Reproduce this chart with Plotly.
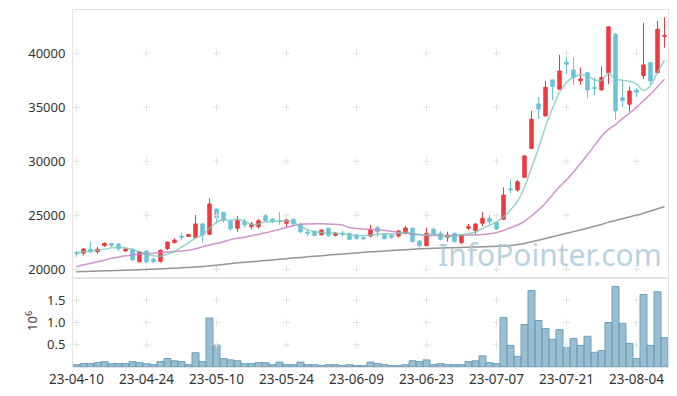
import pandas as pd
import plotly.graph_objects as go

# ---- categories (Korean trading days) ----
holidays = ["2023-05-01", "2023-05-05", "2023-05-29", "2023-06-06"]
days = pd.bdate_range("2023-04-10", "2023-08-10")
days = days[~days.isin(pd.to_datetime(holidays))]
dates = [d.strftime("%y-%m-%d") for d in days]

# ---- OHLC ----
opens = [21550, 21500, 21850, 21640, 22190, 22400, 22340, 21700, 21850, 20700,
         21700, 20950, 20740, 21910, 22470, 23080, 23050, 22930, 24200, 23240,
         25580, 25280, 24450, 23800, 24400, 23950, 23950, 24960, 24660, 24500,
         24260, 24630, 24200, 23450, 23540, 23200, 23800, 23150, 23360, 23330,
         23170, 22930, 23085, 23890, 23240, 23170, 23085, 23335, 23825, 22620,
         22190, 23700, 23335, 22960, 23335, 22470, 23800, 23575, 24260, 24720,
         24320, 24630, 27450, 27345, 28520, 31200, 35310, 34200, 37530, 36670,
         39170, 38450, 37460, 38200, 36850, 36600, 38200, 41760, 35870, 35280,
         36600, 37940, 39140, 38200, 41560]
highs = [21700, 21950, 22550, 22080, 22500, 22470, 22400, 21940, 22000, 21650,
         21750, 21080, 21850, 22590, 22870, 23390, 23260, 25030, 24320, 26580,
         25650, 25340, 24650, 24930, 24700, 24380, 24660, 25090, 24720, 25330,
         24720, 24720, 24260, 23700, 23570, 23700, 23850, 23450, 23570, 23390,
         23270, 23020, 24100, 23980, 23300, 23240, 23640, 24010, 23850, 22720,
         23850, 23850, 23550, 23480, 23400, 23240, 24200, 24260, 25280, 25030,
         24410, 27590, 28330, 28270, 30580, 34660, 35930, 37440, 37600, 39840,
         39630, 39630, 38670, 38290, 37740, 38760, 42500, 41880, 37530, 36910,
         36790, 42810, 39140, 42990, 43330]
lows = [21150, 21300, 21550, 21450, 22080, 22030, 21700, 21600, 20800, 20650,
        20600, 20600, 20620, 21790, 22400, 22720, 22980, 22870, 22470, 23180,
        24260, 24320, 23580, 23480, 23900, 23700, 23760, 24350, 24270, 24100,
        23900, 24000, 23330, 23080, 23090, 23110, 23020, 23050, 23020, 22720,
        22720, 22690, 22960, 23020, 22780, 22840, 22930, 23240, 22500, 22000,
        22160, 23150, 22680, 22560, 22470, 22310, 23640, 23240, 24010, 24160,
        23640, 24570, 27040, 27190, 28430, 31110, 33920, 34130, 35680, 36600,
        38080, 37070, 37070, 35830, 36140, 36560, 37130, 33830, 35000, 34590,
        35930, 37620, 37070, 38110, 40520]
closes = [21450, 21880, 21600, 21870, 22400, 22220, 21910, 21880, 20870, 21600,
          20700, 20700, 21760, 22530, 22710, 22980, 23230, 24200, 23180, 26050,
          24780, 24570, 23750, 24500, 24120, 24200, 24500, 24500, 24400, 24440,
          24570, 24200, 23480, 23350, 23120, 23640, 23120, 23360, 23270, 22780,
          22870, 22850, 23640, 23480, 22840, 22960, 23550, 23825, 22560, 22190,
          23335, 23240, 22780, 23175, 22560, 23175, 23950, 24195, 24720, 24410,
          23730, 26880, 27370, 28110, 30490, 33890, 34840, 36850, 36910, 38360,
          38980, 37780, 37620, 36600, 36740, 37740, 42440, 34660, 35620, 36510,
          36390, 38920, 37440, 42230, 41650]

# ---- moving averages ----
ma_short = [21540, 21620, 21700, 21780, 21850, 21990, 22020, 22000, 21820, 21650,
            21420, 21250, 21220, 21420, 21650, 22050, 22450, 22900, 23200, 23800,
            24350, 24580, 24520, 24650, 24450, 24150, 24200, 24400, 24440, 24450,
            24500, 24350, 24000, 23650, 23480, 23420, 23380, 23330, 23290, 23200,
            23150, 23120, 23170, 23240, 23300, 23270, 23330, 23430, 23380, 23220,
            23180, 23250, 23175, 23020, 23080, 23170, 23300, 23460, 23780, 24080,
            24400, 24850, 25500, 26300, 27600, 29400, 31200, 33200, 34900, 36400,
            37300, 37800, 38000, 37900, 37550, 37500, 38150, 37600, 37500, 37400,
            37150, 36550, 37000, 38250, 39350]
ma_mid = [20250, 20420, 20550, 20700, 20850, 21020, 21130, 21250, 21330, 21400,
          21450, 21500, 21550, 21610, 21660, 21700, 21760, 21900, 22100, 22250,
          22400, 22560, 22750, 22880, 22980, 23110, 23240, 23380, 23540, 23700,
          23870, 24030, 24170, 24200, 24210, 24210, 24200, 24170, 24100, 23850,
          23780, 23730, 23700, 23650, 23600, 23530, 23420, 23340, 23260, 23200,
          23150, 23140, 23130, 23120, 23130, 23160, 23175, 23180, 23220, 23300,
          23420, 23600, 23850, 24100, 24450, 24950, 25500, 26150, 26900, 27650,
          28270, 29000, 29800, 30600, 31450, 32300, 32950, 33400, 33950, 34450,
          35000, 35600, 36200, 36900, 37600]
ma_long = [19780, 19800, 19820, 19840, 19860, 19880, 19900, 19920, 19940, 19965,
           19990, 20020, 20050, 20080, 20110, 20140, 20180, 20220, 20260, 20320,
           20390, 20460, 20530, 20600, 20650, 20710, 20760, 20820, 20870, 20930,
           20990, 21050, 21100, 21160, 21210, 21260, 21320, 21370, 21420, 21470,
           21520, 21575, 21620, 21660, 21700, 21740, 21780, 21820, 21860, 21900,
           21930, 21950, 21970, 21990, 22010, 22030, 22050, 22070, 22090, 22110,
           22130, 22160, 22200, 22290, 22400, 22550, 22700, 22860, 23020, 23180,
           23340, 23490, 23650, 23810, 23980, 24150, 24370, 24530, 24690, 24850,
           25020, 25200, 25400, 25600, 25800]

# ---- volume ----
volume = [52000, 75000, 75000, 97000, 120000, 75000, 75000, 75000, 120000, 97000,
          75000, 52000, 120000, 190000, 140000, 120000, 52000, 320000, 120000, 1100000,
          500000, 190000, 160000, 140000, 75000, 75000, 97000, 97000, 52000, 110000,
          52000, 52000, 110000, 52000, 52000, 30000, 52000, 52000, 30000, 52000,
          30000, 30000, 110000, 75000, 52000, 30000, 30000, 52000, 140000, 120000,
          160000, 52000, 75000, 52000, 52000, 52000, 120000, 140000, 250000, 97000,
          75000, 1110000, 485000, 240000, 955000, 1720000, 1045000, 866000, 620000, 840000,
          440000, 640000, 485000, 690000, 330000, 370000, 1000000, 1810000, 980000, 530000,
          190000, 1630000, 485000, 1690000, 660000]

# ---- ticks ----
x_tick_labels = dates[::10]
price_ticks = [20000, 25000, 30000, 35000, 40000]
price_tick_text = ["20000", "25000", "30000", "35000", "40000"]
vol_ticks = [500000, 1000000, 1500000]
vol_tick_text = ["0.5", "1.0", "1.5"]

RED = "#ee3a3f"
BLUE = "#6cc3d9"
GRID = "#e2e2e2"
AXLINE = "#e3e3e3"

fig = go.Figure()

# grid crosses
fig.add_trace(go.Scatter(
    x=[xv for yv in price_ticks for xv in x_tick_labels],
    y=[yv for yv in price_ticks for xv in x_tick_labels],
    mode="markers", xaxis="x", yaxis="y", hoverinfo="skip",
    marker=dict(symbol="cross-thin", size=5, line=dict(color=GRID, width=1))))
fig.add_trace(go.Scatter(
    x=[xv for yv in vol_ticks for xv in x_tick_labels],
    y=[yv for yv in vol_ticks for xv in x_tick_labels],
    mode="markers", xaxis="x2", yaxis="y2", hoverinfo="skip",
    marker=dict(symbol="cross-thin", size=5, line=dict(color=GRID, width=1))))

# volume bars
fig.add_trace(go.Bar(
    x=dates, y=volume, xaxis="x2", yaxis="y2", width=1.0,
    marker=dict(color="rgba(120,168,194,0.75)", line=dict(color="#6d9fb9", width=1))))

# candles
fig.add_trace(go.Candlestick(
    x=dates, open=opens, high=highs, low=lows, close=closes,
    xaxis="x", yaxis="y",
    increasing=dict(line=dict(color=RED, width=1), fillcolor=RED),
    decreasing=dict(line=dict(color=BLUE, width=1), fillcolor=BLUE)))

# moving averages
fig.add_trace(go.Scatter(x=dates, y=ma_long, mode="lines", xaxis="x", yaxis="y",
                         line=dict(color="rgba(130,130,130,0.85)", width=1.5, shape="spline")))
fig.add_trace(go.Scatter(x=dates, y=ma_mid, mode="lines", xaxis="x", yaxis="y",
                         line=dict(color="rgba(200,130,195,0.85)", width=1.5, shape="spline")))
fig.add_trace(go.Scatter(x=dates, y=ma_short, mode="lines", xaxis="x", yaxis="y",
                         line=dict(color="rgba(125,200,185,0.8)", width=1.5, shape="spline")))

split = 89 / 357

fig.update_layout(
    width=677, height=396,
    margin=dict(l=73, r=9, t=10, b=29),
    paper_bgcolor="white", plot_bgcolor="white",
    showlegend=False, hovermode=False,
    font=dict(family="Noto Sans", color="#333333", size=13),
    xaxis=dict(domain=[0, 1], anchor="y", type="category", categoryorder="array",
               categoryarray=dates, range=[-0.5, 84.5], showticklabels=False,
               showgrid=False, zeroline=False, showline=True, mirror=True,
               linecolor=AXLINE, linewidth=1, rangeslider=dict(visible=False)),
    yaxis=dict(domain=[split, 1], anchor="x", range=[19200, 44000],
               tickvals=price_ticks, ticktext=price_tick_text, ticks="",
               showgrid=False, zeroline=False,
               showline=True, mirror=True, linecolor=AXLINE, linewidth=1,
               tickfont=dict(size=13, color="#333333"), ticklabelstandoff=4),
    xaxis2=dict(domain=[0, 1], anchor="y2", type="category", categoryorder="array",
                categoryarray=dates, range=[-0.5, 84.5], tickvals=x_tick_labels,
                ticktext=x_tick_labels, ticks="", showgrid=False, zeroline=False,
                showline=True, mirror=True, linecolor=AXLINE, linewidth=1,
                tickangle=0, tickfont=dict(size=13.5, color="#333333")),
    yaxis2=dict(domain=[0, split], anchor="x2", range=[0, 2000000],
                tickvals=vol_ticks, ticktext=vol_tick_text, ticks="", showgrid=False,
                zeroline=False, showline=True, mirror=True, linecolor=AXLINE, linewidth=1,
                tickfont=dict(size=13, color="#333333"), ticklabelstandoff=4),
    annotations=[
        dict(text="10<sup>6</sup>", xref="paper", yref="paper", x=-0.069, y=0.129,
             xanchor="center", yanchor="middle",
             textangle=-90, showarrow=False, font=dict(size=13, color="#333333")),
        dict(text="InfoPointer.com", xref="paper", yref="paper", x=0.802, y=0.314,
             xanchor="center", yanchor="middle",
             showarrow=False, font=dict(size=30, color="rgba(160,195,214,0.75)")),
    ],
)

fig.write_html("out.html",
               config={"displayModeBar": False},
               post_script="document.body.style.margin='0';document.body.style.padding='0';")
